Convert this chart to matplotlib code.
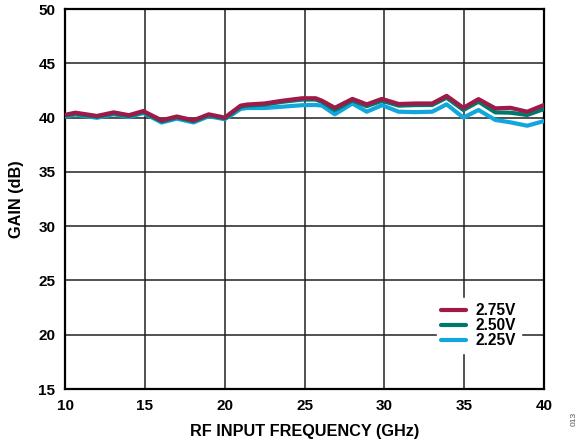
import matplotlib
matplotlib.use("Agg")
import matplotlib.pyplot as plt

plt.rcParams["font.family"] = ["Liberation Sans", "DejaVu Sans"]
plt.rcParams["font.weight"] = "bold"

# Gain vs RF input frequency for three supply voltages
freq_ghz = [10.0, 10.65, 12.0, 13.05, 14.0, 14.9, 16.05, 17.0, 18.05, 19.0, 20.0,
            20.5, 21.0, 21.4, 22.5, 23.6, 24.85, 25.7, 26.1, 26.9, 28.0, 28.9,
            29.85, 30.9, 31.95, 33.0, 33.9, 34.95, 35.9, 36.95, 37.9, 38.95, 40.0]

gain_275 = [40.25, 40.45, 40.15, 40.48, 40.22, 40.60, 39.75, 40.10, 39.75, 40.30, 40.00,
            40.55, 41.10, 41.20, 41.30, 41.55, 41.78, 41.78, 41.55, 40.90, 41.72, 41.22,
            41.72, 41.25, 41.30, 41.30, 42.00, 40.90, 41.70, 40.85, 40.90, 40.54, 41.16]

gain_250 = [40.17, 40.37, 40.07, 40.40, 40.14, 40.52, 39.65, 40.02, 39.67, 40.22, 39.93,
            40.45, 41.00, 41.10, 41.20, 41.45, 41.66, 41.66, 41.45, 40.70, 41.58, 41.05,
            41.55, 41.10, 41.15, 41.16, 41.83, 40.70, 41.46, 40.48, 40.45, 40.24, 40.79]

gain_225 = [40.08, 40.28, 39.98, 40.30, 40.05, 40.42, 39.55, 39.90, 39.55, 40.12, 39.85,
            40.30, 40.80, 40.88, 40.88, 41.00, 41.14, 41.16, 41.10, 40.30, 41.30, 40.54,
            41.14, 40.54, 40.50, 40.54, 41.22, 40.00, 40.70, 39.78, 39.56, 39.25, 39.68]

series = [
    ("2.75V", gain_275, "#9E1A48"),
    ("2.50V", gain_250, "#00796D"),
    ("2.25V", gain_225, "#12A6DC"),
]

x_ticks = [10, 15, 20, 25, 30, 35, 40]
y_ticks = [15, 20, 25, 30, 35, 40, 45, 50]

fig = plt.figure(figsize=(5.81, 4.46), dpi=100, facecolor="white")
ax = fig.add_axes([0.1119, 0.1278, 0.8244, 0.852])

# draw lowest voltage first so 2.75V sits on top
for label, gain, color in reversed(series):
    ax.plot(freq_ghz, gain, color=color, linewidth=3.0, label=label,
            solid_joinstyle="round", solid_capstyle="round", zorder=3)

ax.set_xlim(10, 40)
ax.set_ylim(15, 50)
ax.set_xticks(x_ticks)
ax.set_yticks(y_ticks)
ax.grid(True, color="#222222", linewidth=1.1)
ax.set_axisbelow(True)
ax.tick_params(length=0, labelsize=11, pad=7)
for spine in ax.spines.values():
    spine.set_linewidth(1.6)
    spine.set_color("black")

ax.set_xlabel("RF INPUT FREQUENCY (GHz)", fontsize=11.7, fontweight="bold", labelpad=8)
ax.set_ylabel("GAIN (dB)", fontsize=11.7, fontweight="bold", labelpad=10)

handles, labels = ax.get_legend_handles_labels()
leg = ax.legend(handles[::-1], labels[::-1], loc="lower right",
                bbox_to_anchor=(0.968, 0.075), frameon=True, fancybox=False,
                edgecolor="white", facecolor="white", framealpha=1.0,
                fontsize=11.2, handlelength=1.6, handletextpad=0.6,
                labelspacing=0.0, borderpad=0.3)
for t in leg.get_texts():
    t.set_fontweight("bold")

fig.text(0.988, 0.06, "013", rotation=90, fontsize=6, color="#555555",
         fontweight="normal", ha="center", va="center")

fig.savefig("out.png", dpi=100, facecolor="white")
